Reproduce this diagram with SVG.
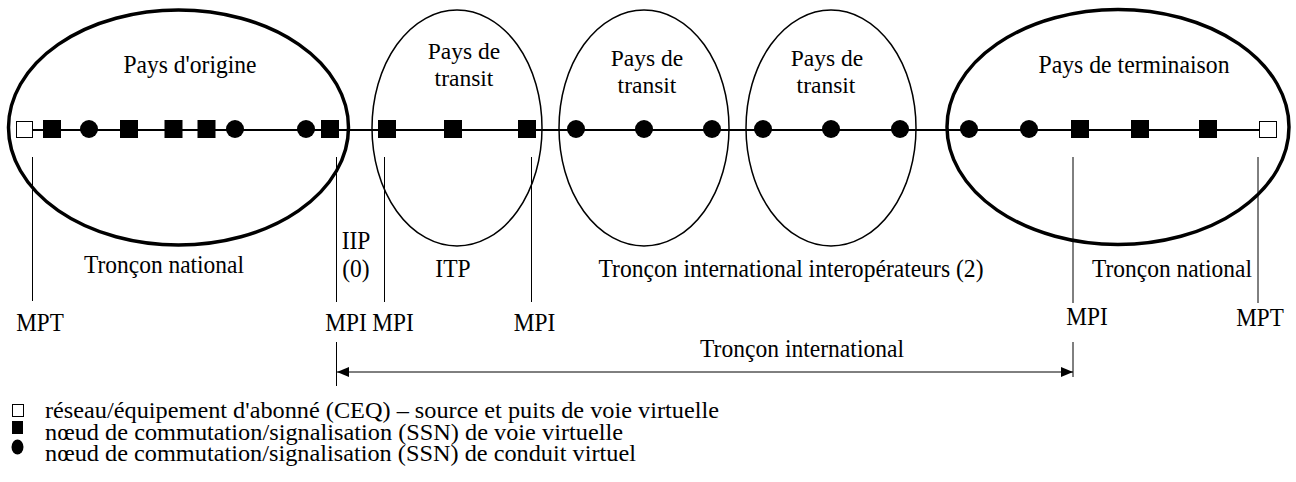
<svg xmlns="http://www.w3.org/2000/svg" width="1296" height="482" viewBox="0 0 1296 482">
<style>
text{font-family:"Liberation Serif","Times New Roman",serif;font-size:25.5px;fill:#000}
.m{text-anchor:middle}
.pt{font-size:24px}
.lg{font-size:22.5px}
.big{fill:none;stroke:#000;stroke-width:3.5}
.tr{fill:none;stroke:#000;stroke-width:1.5}
.sq{fill:#000}
.ceq{fill:#fff;stroke:#000;stroke-width:1}
.vl{stroke:#000;stroke-width:1;fill:none}
.ln{stroke:#000;stroke-width:2;fill:none}
</style>
<defs>
<marker id="ah" viewBox="0 0 12 10" refX="12" refY="5" markerWidth="12" markerHeight="10" markerUnits="userSpaceOnUse" orient="auto-start-reverse">
<path d="M0,0 L12,5 L0,10 Z" fill="#000"/>
</marker>
<rect id="s" x="-9" y="-9" width="18" height="18" class="sq"/>
<circle id="c" r="9" fill="#000"/>
</defs>
<rect width="1296" height="482" fill="#fff"/>

<g id="connectors">
<line class="ln" x1="32" y1="130" x2="1259" y2="130"/>
<line class="vl" x1="32.5" y1="157" x2="32.5" y2="301"/>
<line class="vl" x1="336.5" y1="157" x2="336.5" y2="302"/>
<line class="vl" x1="384.5" y1="157" x2="384.5" y2="302"/>
<line class="vl" x1="531.5" y1="157" x2="531.5" y2="302"/>
<line class="vl" x1="1073" y1="157" x2="1073" y2="303"/>
<line class="vl" x1="1258" y1="157" x2="1258" y2="303"/>
<line class="vl" x1="336.5" y1="342" x2="336.5" y2="386"/>
<line class="vl" x1="1073" y1="342" x2="1073" y2="377"/>
<line class="vl" x1="337" y1="372" x2="1073" y2="372" marker-start="url(#ah)" marker-end="url(#ah)"/>
</g>

<g id="pays-origine">
<ellipse class="big" cx="178.5" cy="127.5" rx="170" ry="117.5"/>
<text class="m" x="190" y="73" textLength="133" lengthAdjust="spacingAndGlyphs">Pays d'origine</text>
</g>
<g id="pays-transit-1">
<ellipse class="tr" cx="457" cy="128" rx="85" ry="118"/>
<text class="m pt" x="464" y="59" textLength="72.5" lengthAdjust="spacingAndGlyphs">Pays de</text>
<text class="m pt" x="464" y="86" textLength="58.8" lengthAdjust="spacingAndGlyphs">transit</text>
</g>
<g id="pays-transit-2">
<ellipse class="tr" cx="644" cy="128" rx="85" ry="118"/>
<text class="m pt" x="647" y="66" textLength="72.5" lengthAdjust="spacingAndGlyphs">Pays de</text>
<text class="m pt" x="647" y="93" textLength="58.8" lengthAdjust="spacingAndGlyphs">transit</text>
</g>
<g id="pays-transit-3">
<ellipse class="tr" cx="831" cy="128" rx="85" ry="118"/>
<text class="m pt" x="827" y="66" textLength="72.5" lengthAdjust="spacingAndGlyphs">Pays de</text>
<text class="m pt" x="826" y="93" textLength="58.8" lengthAdjust="spacingAndGlyphs">transit</text>
</g>
<g id="pays-terminaison">
<ellipse class="big" cx="1118" cy="127" rx="171" ry="117.5"/>
<text class="m" x="1134" y="73" textLength="191" lengthAdjust="spacingAndGlyphs">Pays de terminaison</text>
</g>

<g id="nodes">
<rect id="ceq-src" class="ceq" x="16.5" y="121.5" width="16" height="16"/>
<use href="#s" x="52" y="129"/>
<use href="#c" x="89" y="129"/>
<use href="#s" x="129" y="129"/>
<use href="#s" x="173.5" y="129"/>
<use href="#s" x="206.5" y="129"/>
<use href="#c" x="235" y="129"/>
<use href="#c" x="306" y="129"/>
<use href="#s" x="330" y="129"/>
<use href="#s" x="387" y="129"/>
<use href="#s" x="453" y="129"/>
<use href="#s" x="527" y="129"/>
<use href="#c" x="576" y="129"/>
<use href="#c" x="644" y="129"/>
<use href="#c" x="712" y="129"/>
<use href="#c" x="763" y="129"/>
<use href="#c" x="831" y="129"/>
<use href="#c" x="900" y="129"/>
<use href="#c" x="969" y="129"/>
<use href="#c" x="1029" y="129"/>
<use href="#s" x="1080" y="129"/>
<use href="#s" x="1140" y="129"/>
<use href="#s" x="1208" y="129"/>
<rect id="ceq-dst" class="ceq" x="1259.5" y="121.5" width="17" height="16"/>
</g>

<g id="labels">
<text class="m" x="164" y="273" textLength="160" lengthAdjust="spacingAndGlyphs">Tronçon national</text>
<text class="m" x="356" y="249" textLength="28.7" lengthAdjust="spacingAndGlyphs">IIP</text>
<text class="m" x="356" y="277" textLength="27.4" lengthAdjust="spacingAndGlyphs">(0)</text>
<text class="m" x="453" y="277" textLength="35.3" lengthAdjust="spacingAndGlyphs">ITP</text>
<text class="m" x="791" y="277" textLength="385" lengthAdjust="spacingAndGlyphs">Tronçon international interopérateurs (2)</text>
<text class="m" x="1172" y="277" textLength="160" lengthAdjust="spacingAndGlyphs">Tronçon national</text>
<text class="m" x="40" y="331" textLength="47.5" lengthAdjust="spacingAndGlyphs">MPT</text>
<text class="m" x="346" y="331" textLength="41.5" lengthAdjust="spacingAndGlyphs">MPI</text>
<text class="m" x="393" y="331" textLength="41.5" lengthAdjust="spacingAndGlyphs">MPI</text>
<text class="m" x="534.5" y="331" textLength="41.5" lengthAdjust="spacingAndGlyphs">MPI</text>
<text class="m" x="1087" y="325" textLength="41.5" lengthAdjust="spacingAndGlyphs">MPI</text>
<text class="m" x="1260" y="326" textLength="47.5" lengthAdjust="spacingAndGlyphs">MPT</text>
<text class="m" x="802" y="357" textLength="204" lengthAdjust="spacingAndGlyphs">Tronçon international</text>
</g>

<g id="legend">
<rect class="ceq" x="12.5" y="404.5" width="11" height="12"/>
<rect class="sq" x="12" y="421" width="11" height="13"/>
<ellipse cx="17.5" cy="447" rx="6" ry="7.5" fill="#000"/>
<text class="lg" x="45" y="418" textLength="674" lengthAdjust="spacingAndGlyphs">réseau/équipement d'abonné (CEQ) – source et puits de voie virtuelle</text>
<text class="lg" x="45" y="440" textLength="578" lengthAdjust="spacingAndGlyphs">nœud de commutation/signalisation (SSN) de voie virtuelle</text>
<text class="lg" x="45" y="461" textLength="591" lengthAdjust="spacingAndGlyphs">nœud de commutation/signalisation (SSN) de conduit virtuel</text>
</g>
</svg>
